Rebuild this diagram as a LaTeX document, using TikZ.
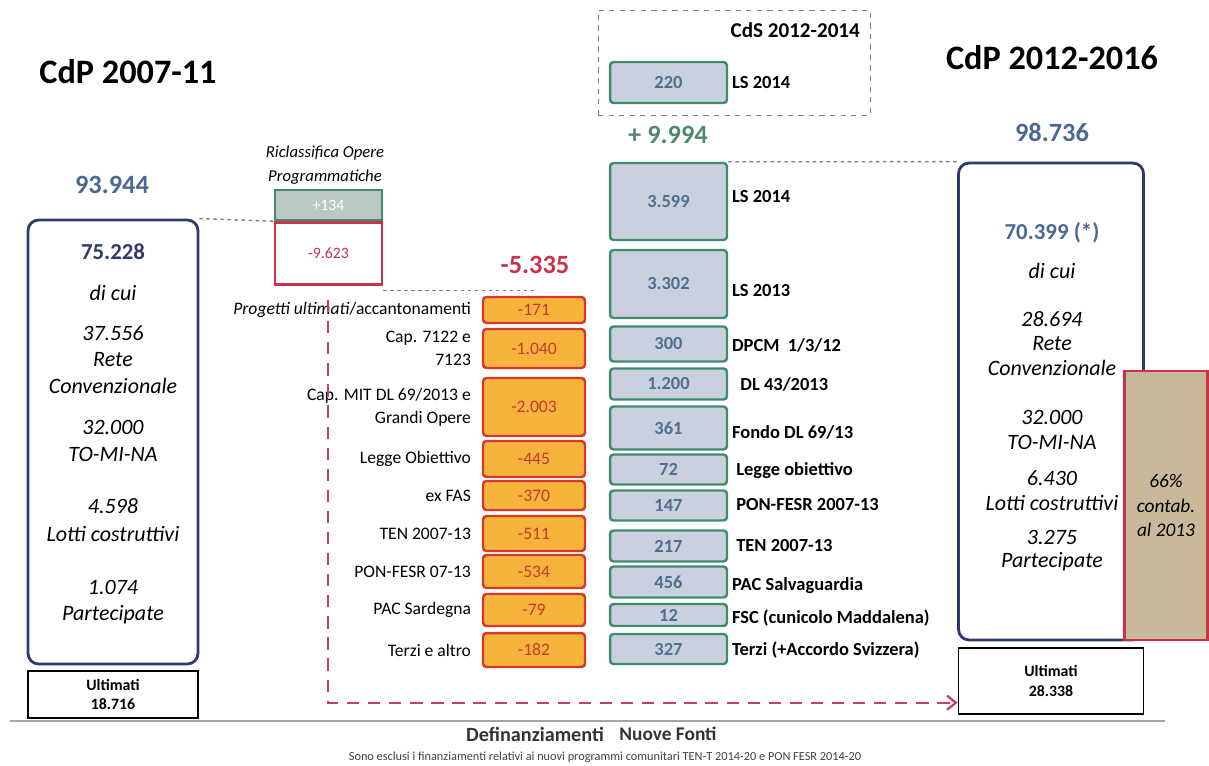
\documentclass[tikz,border=0pt]{standalone}
\usepackage{fontspec}
\setmainfont{Carlito}
\usepackage{xcolor}
\usepackage{tikz}
\tikzset{>=latex}
\usetikzlibrary{
    positioning, % relative placement
    arrows.meta, % arrow tips
    calc % coordinate calculations
}
\definecolor{navy}{HTML}{2E3A6B}
\definecolor{numblue}{HTML}{4A6894}
\definecolor{boxgreen}{HTML}{3F8C6C}
\definecolor{greenfill}{HTML}{CAD0DE}
\definecolor{greentext}{HTML}{4F6F8F}
\definecolor{plusgreen}{HTML}{4E8A6A}
\definecolor{minusred}{HTML}{C8324A}
\definecolor{orangefill}{HTML}{F6B43C}
\definecolor{orangeline}{HTML}{D8372A}
\definecolor{orangetext}{HTML}{C23A2E}
\definecolor{tanfill}{HTML}{C9B99A}
\definecolor{flowpink}{HTML}{C83E66}

\begin{document}
\begin{tikzpicture}[x=0.02cm,y=-0.02cm]
    \useasboundingbox (0,0) rectangle (1209,765);
    % styles
    \tikzstyle{titletext} = [font=\fontsize{19.5}{22}\selectfont\bfseries]
    \tikzstyle{totalnum}  = [font=\fontsize{15}{17}\selectfont\bfseries]
    \tikzstyle{cdpbox}    = [draw=navy, line width=1.6pt, rounded corners=6pt]
    \tikzstyle{cdpitem}   = [font=\fontsize{12.5}{15}\selectfont\itshape, align=center]
    \tikzstyle{ultbox}    = [draw=black, line width=1pt, align=center,
                             font=\fontsize{9}{11}\selectfont\bfseries]
    \tikzstyle{srcbox}    = [draw=boxgreen, fill=greenfill, line width=1.4pt, rounded corners=2pt,
                             text=greentext, minimum width=2.34cm, inner sep=1pt,
                             font=\fontsize{10.5}{12}\selectfont\bfseries]
    \tikzstyle{cutbox}    = [draw=orangeline, fill=orangefill, line width=1.4pt, rounded corners=2pt,
                             text=orangetext, minimum width=2.04cm, inner sep=1pt,
                             font=\fontsize{10}{12}\selectfont]
    \tikzstyle{srclabel}  = [anchor=west, inner sep=1pt, font=\fontsize{10.5}{12}\selectfont\bfseries]
    \tikzstyle{cutlabel}  = [anchor=east, align=right, inner sep=1pt, font=\fontsize{10}{13}\selectfont]
    \tikzstyle{guide}     = [gray, line width=0.8pt, dash pattern=on 2pt off 2pt]
    \tikzstyle{flowline}  = [flowpink, line width=1.3pt, dash pattern=on 7pt off 5pt,
                             -{Straight Barb[length=5pt,width=8pt]}]

    % titles
    \node[titletext] (t07) at (128,72) {CdP 2007-11};
    \node[titletext] (t12) at (1052,58) {CdP 2012-2016};
    \node[totalnum, text=numblue] (tot07) at (112,185) {93.944};
    \node[totalnum, text=numblue] (tot12) at (1052,132) {98.736};
    \node[totalnum, text=minusred] (totcut) at (535,265) {-5.335};
    \node[totalnum, text=plusgreen] (totsrc) at (668,135) {+ 9.994};

    % CdP 2007-11
    \node[cdpbox, minimum width=3.4cm, minimum height=8.88cm] (cdp07) at (113,442) {};
    \node[font=\fontsize{13}{15}\selectfont\bfseries, text=navy] (v07) at (113,252) {75.228};
    \foreach \y/\t [count=\i] in {293/di cui, 333/37.556, 360/Rete, 386/Convenzionale,
        427/32.000, 454/TO-MI-NA, 506/4.598, 534/Lotti costruttivi, 587/1.074, 615/Partecipate}
        \node[cdpitem] (a\i) at (113,\y) {\t};
    \node[ultbox, minimum width=3.4cm, minimum height=0.94cm] (ult07) at (113,694.5) {Ultimati\\18.716};

    % riclassifica
    \node[font=\fontsize{9.5}{13.5}\selectfont\itshape, align=center] (riclt) at (325,165)
        {Riclassifica Opere\\Programmatiche};
    \node[draw=boxgreen, fill=boxgreen!45!gray!45, line width=1.4pt, text=white,
          minimum width=2.14cm, minimum height=0.6cm, inner sep=1pt,
          font=\fontsize{9}{11}\selectfont] (ricl) at (328.5,205) {+134};
    \node[draw=minusred, fill=white, line width=1.4pt, text=minusred, anchor=north,
          minimum width=2.14cm, minimum height=1.24cm, inner sep=1pt,
          font=\fontsize{9}{11}\selectfont] (riclred) at (ricl.south) {-9.623};
    \draw[guide] (cdp07.north east) -- (ricl.south west);

    % definanziamenti
    \foreach \y/\h/\v/\l [count=\i] in {
        310/0.52/-171/{\textit{Progetti ultimati}/accantonamenti},
        348.5/0.78/-1.040/{Cap. 7122 e\\7123},
        407/1.16/-2.003/{Cap. MIT DL 69/2013 e\\Grandi Opere},
        459/0.72/-445/{Legge Obiettivo},
        495.5/0.58/-370/{ex FAS},
        533.5/0.7/-511/{TEN 2007-13},
        571.5/0.66/-534/{PON-FESR 07-13},
        610/0.64/-79/{PAC Sardegna},
        650/0.68/-182/{Terzi e altro}} {
        \node[cutbox, minimum height=\h cm] (o\i) at (534,\y) {\v};
        \node[cutlabel] (lo\i) at (473,\y) {\l};
    }
    \draw[guide] ($(riclred.south east)+(0,5)$) -- ($(riclred.south east -| o1.north)+(0,5)$);

    % nuove fonti
    \node[draw=gray, dashed, minimum width=5.44cm, minimum height=2.1cm] (cds) at (734,62.5) {};
    \node[font=\fontsize{12}{14}\selectfont\bfseries, anchor=north east] (cdst) at (866,16) {CdS 2012-2014};
    \node[srcbox, minimum height=0.82cm] (g0) at (668.5,82.5) {220};
    \node[srclabel] (lg0) at (730,83) {LS 2014};
    \foreach \y/\h/\v/\ly/\l [count=\i] in {
        201.5/1.54/3.599/197/{LS 2014},
        284/1.36/3.302/291/{LS 2013},
        344/0.7/300/345/{DPCM\ \ 1/3/12},
        384/0.62/1.200/384/{\ \ DL 43/2013},
        428/0.86/361/432/{Fondo DL 69/13},
        469.5/0.6/72/471/{\ Legge obiettivo},
        505.5/0.6/147/504/{\ PON-FESR 2007-13},
        546/0.62/217/545/{\ TEN 2007-13},
        582/0.62/456/586/{PAC Salvaguardia},
        615/0.44/12/618/{FSC (cunicolo Maddalena)},
        649/0.6/327/650/{Terzi (+Accordo Svizzera)}} {
        \node[srcbox, minimum height=\h cm] (g\i) at (668.5,\y) {\v};
        \node[srclabel] (lg\i) at (730,\ly) {\l};
    }

    % CdP 2012-2016
    \node[cdpbox, minimum width=3.7cm, minimum height=9.54cm] (cdp12) at (1051,401.5) {};
    \draw[guide] (g1.north east) -- (cdp12.north west);
    \node[font=\fontsize{13}{15}\selectfont\bfseries, text=numblue] (v12) at (1052,233) {70.399 (*)};
    \foreach \y/\t [count=\i] in {271/di cui, 319/28.694, 344/Rete, 368/Convenzionale,
        417/32.000, 442/TO-MI-NA, 478/6.430, 503/Lotti costruttivi, 537/3.275, 562/Partecipate}
        \node[cdpitem] (b\i) at (1052,\y) {\t};
    \node[draw=minusred, fill=tanfill, line width=1.2pt, minimum width=1.66cm, minimum height=5.38cm,
          align=center, font=\fontsize{11}{14}\selectfont\itshape] (contab) at (1166,505.5)
        {66\%\\contab.\\al 2013};
    \node[ultbox, minimum width=3.7cm, minimum height=1.32cm] (ult12) at (1051,681) {Ultimati\\28.338};

    % flow arrow
    \coordinate (flowstart) at (328,300);
    \draw[flowline] (flowstart) |- ($(ult12.south west)!0.18!(ult12.north west)$);

    % base line and captions
    \draw[gray!70, line width=1pt] (10,721) -- (1165,721);
    \node[font=\fontsize{11.5}{13}\selectfont\bfseries, text=black!80] (defin) at (535,734) {Definanziamenti};
    \node[font=\fontsize{11}{13}\selectfont\bfseries, text=black!80] (nuove) at (668,734) {Nuove Fonti};
    \node[font=\fontsize{7}{8}\selectfont, text=black!75] (note) at (605,757)
        {Sono esclusi i finanziamenti relativi ai nuovi programmi comunitari TEN-T 2014-20 e PON FESR 2014-20};
\end{tikzpicture}
\end{document}
